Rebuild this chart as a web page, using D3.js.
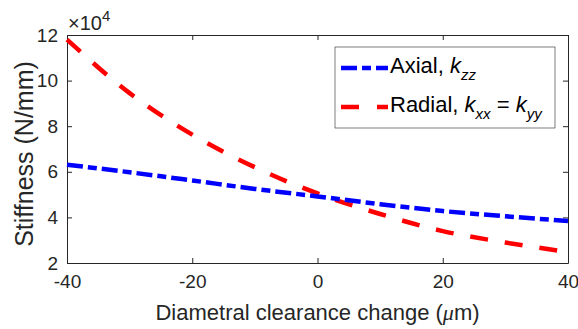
<!DOCTYPE html>
<html lang="en">
<head>
<meta charset="UTF-8">
<title>Stiffness vs clearance</title>
<style>
    body { margin: 0; background: #fff; font-family: "Liberation Sans", Arial, sans-serif; }
    svg text { fill: #262626; }
</style>
</head>
<body>
<div id="chart"></div>
<script src="https://d3js.org/d3.v7.min.js"></script>
<script>
    // clearance change in micrometres
    const clearance = [-40, -30, -20, -10, 0, 10, 20, 30, 40];
    // stiffness in units of 1e4 N/mm
    const axial = [6.31, 5.98, 5.62, 5.25, 4.92, 4.58, 4.28, 4.05, 3.84];
    const radial = [11.8, 9.45, 7.63, 6.2, 5.05, 4.15, 3.4, 2.9, 2.48];
    const xTicks = [-40, -20, 0, 20, 40];
    const yTicks = [2, 4, 6, 8, 10, 12];

    const width = 578, height = 329;
    const margin = { left: 67, right: 10, top: 35, bottom: 66 };

    const svg = d3.select('#chart').append('svg')
        .attr('width', width)
        .attr('height', height);

    const x = d3.scaleLinear().domain([-40, 40]).range([margin.left, width - margin.right]);
    const y = d3.scaleLinear().domain([2, 12]).range([height - margin.bottom, margin.top]);

    const axisColor = '#262626';
    const tickLen = 5;

    // bottom and left axes with labels
    svg.append('g')
        .attr('transform', `translate(0,${y(2)})`)
        .call(d3.axisBottom(x).tickValues(xTicks).tickSizeInner(-tickLen).tickSizeOuter(0).tickPadding(12)
            .tickFormat(d => d < 0 ? '-' + Math.abs(d) : d));
    svg.append('g')
        .attr('transform', `translate(${x(-40)},0)`)
        .call(d3.axisLeft(y).tickValues(yTicks).tickSizeInner(-tickLen).tickSizeOuter(0).tickPadding(9));

    // top and right ticks, no labels
    svg.append('g')
        .attr('transform', `translate(0,${y(12)})`)
        .call(d3.axisTop(x).tickValues(xTicks).tickSizeInner(-tickLen).tickSizeOuter(0).tickFormat(''));
    svg.append('g')
        .attr('transform', `translate(${x(40)},0)`)
        .call(d3.axisRight(y).tickValues(yTicks).tickSizeInner(-tickLen).tickSizeOuter(0).tickFormat(''));

    svg.selectAll('.domain').attr('stroke', axisColor).attr('stroke-width', 1);
    svg.selectAll('.tick line').attr('stroke', axisColor);
    svg.selectAll('.tick text')
        .attr('font-size', 19)
        .attr('font-family', '"Liberation Sans", Arial, sans-serif')
        .attr('fill', axisColor);

    // multiplier
    const mult = svg.append('text')
        .attr('x', x(-40) + 1)
        .attr('y', 30)
        .attr('font-size', 20);
    mult.append('tspan').text('\u00d710');
    mult.append('tspan').attr('font-size', 15).attr('dy', -9).text('4');

    // axis titles
    svg.append('text')
        .attr('x', (x(-40) + x(40)) / 2)
        .attr('y', 320)
        .attr('text-anchor', 'middle')
        .attr('font-size', 22)
        .html('Diametral clearance change (<tspan font-family="Liberation Serif" font-style="italic">\u03bc</tspan>m)');

    svg.append('text')
        .attr('transform', `translate(33,154) rotate(-90)`)
        .attr('text-anchor', 'middle')
        .attr('font-size', 25)
        .text('Stiffness (N/mm)');

    const line = d3.line()
        .x((d, i) => x(clearance[i]))
        .y(d => y(d))
        .curve(d3.curveMonotoneX);

    const plot = svg.append('g');
    plot.append('path')
        .datum(radial)
        .attr('d', line)
        .attr('fill', 'none')
        .attr('stroke', '#ff0000')
        .attr('stroke-width', 4.5)
        .attr('stroke-dasharray', '18,17');
    plot.append('path')
        .datum(axial)
        .attr('d', line)
        .attr('fill', 'none')
        .attr('stroke', '#0000ff')
        .attr('stroke-width', 4.5)
        .attr('stroke-dasharray', '16,5,9,5');

    // legend
    const legend = svg.append('g').attr('transform', 'translate(335,47)');
    legend.append('rect')
        .attr('width', 220).attr('height', 81)
        .attr('fill', '#fff')
        .attr('stroke', '#262626')
        .attr('stroke-width', 0.6);

    const sub = t => `<tspan font-style="italic">k</tspan><tspan font-style="italic" font-size="15" dy="7">${t}</tspan>`;
    const items = [
        { color: '#0000ff', dash: '16,5,9,5', y: 21, label: 'Axial, ' + sub('zz') },
        { color: '#ff0000', dash: '18,18', y: 60, label: 'Radial, ' + sub('xx') + '<tspan dy="-7"> = </tspan>' + sub('yy') }
    ];
    items.forEach(it => {
        legend.append('line')
            .attr('x1', 6).attr('x2', 53)
            .attr('y1', it.y).attr('y2', it.y)
            .attr('stroke', it.color)
            .attr('stroke-width', 4.5)
            .attr('stroke-dasharray', it.dash);
        legend.append('text')
            .attr('x', 55).attr('y', it.y + 5)
            .attr('font-size', 22)
            .style('fill', '#000')
            .html(it.label);
    });
</script>
</body>
</html>
